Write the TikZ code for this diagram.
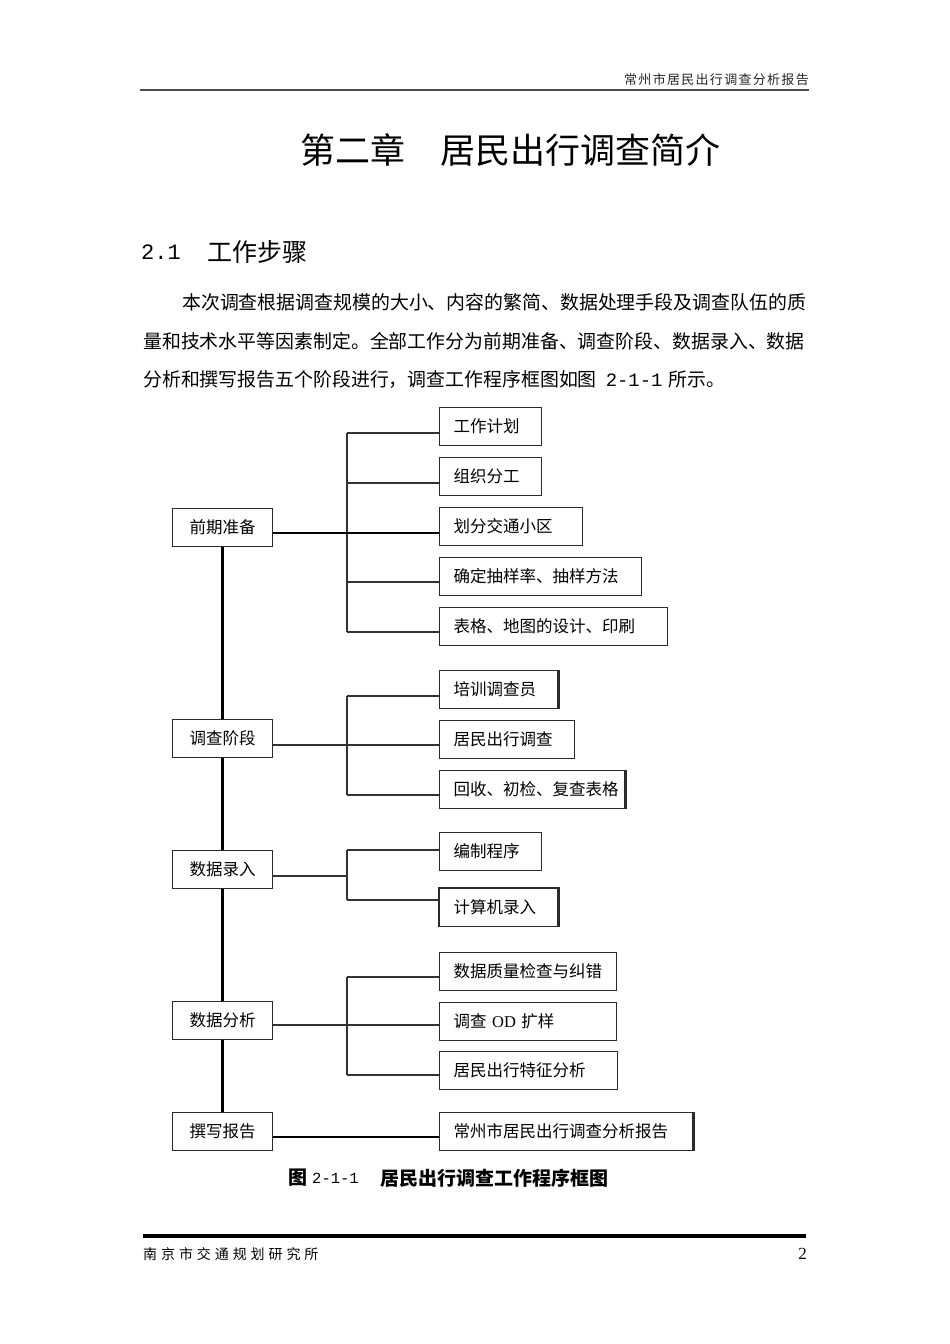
\documentclass[tikz,border=0pt]{standalone}
\usepackage{fontspec}
\setmainfont{Liberation Serif}
\newfontfamily\cjk{Noto Sans CJK SC}
\newfontfamily\cjksp[LetterSpace=10]{Noto Sans CJK SC}
\newfontfamily\cjkfoot[LetterSpace=28]{Noto Sans CJK SC}
\newfontfamily\mono{Liberation Mono}
\definecolor{boxc}{HTML}{2A2A2A}
\definecolor{linec}{HTML}{333333}
\newcommand{\fsz}[1]{\fontsize{#1}{#1}\selectfont}
\tikzset{
  rbox/.style={draw=boxc, line width=1.3pt, anchor=north west, minimum height=38pt,
    inner xsep=14pt, inner ysep=0pt, text height=14.6pt, text depth=2pt, align=left,
    font=\cjk\fsz{16.5pt}, text=black},
  lbox/.style={draw=boxc, line width=1.3pt, anchor=north west, minimum height=38pt,
    minimum width=100pt, inner sep=0pt, text height=14.6pt, text depth=2pt,
    font=\cjk\fsz{16.5pt}, text=black},
  conn/.style={draw=linec, line width=1.3pt},
  thickl/.style={draw=black, line width=2.6pt},
  spine/.style={draw=black, line width=2.7pt},
  edge/.style={draw=boxc, line width=2.6pt},
  txt/.style={inner sep=0pt, anchor=west, text=black}
}
\begin{document}
\begin{tikzpicture}[x=1pt,y=-1pt]
\useasboundingbox (0,0) rectangle (950,1344);
\fill[white] (0,0) rectangle (950,1344);

% header
\node[inner sep=0pt, anchor=east, font=\cjksp\fsz{13pt}, text=black!85] (hdr) at (809,80) {常州市居民出行调查分析报告};
\draw[line width=1.8pt, black!70] (140,90) -- (809,90);

% title
\node[txt, font=\cjk\fsz{35pt}] (title) at (300,150) {第二章　居民出行调查简介};

% section heading
\node[txt, font=\mono\fsz{22pt}] (secnum) at (141,252) {2.1};
\node[txt, font=\cjk\fsz{25pt}] (sectitle) at (207,252) {工作步骤};

% paragraph
\node[txt, font=\cjk\fsz{18.9pt}] (p1) at (182,302) {本次调查根据调查规模的大小、内容的繁简、数据处理手段及调查队伍的质};
\node[txt, font=\cjk\fsz{18.9pt}] (p2) at (143,341) {量和技术水平等因素制定。全部工作分为前期准备、调查阶段、数据录入、数据};
\node[txt, font=\cjk\fsz{18.9pt}] (p3) at (143,380) {分析和撰写报告五个阶段进行，调查工作程序框图如图\hspace{9pt}{\mono\fsz{18.9pt}2-1-1}\hspace{6pt}所示。};

% left column boxes
\node[lbox] (g1) at (172,508) {前期准备};
\node[lbox] (g2) at (172,719) {调查阶段};
\node[lbox] (g3) at (172,850) {数据录入};
\node[lbox] (g4) at (172,1001) {数据分析};
\node[lbox] (g5) at (172,1112) {撰写报告};

% group 1
\node[rbox, text width=74pt] (a1) at (439,407) {工作计划};
\node[rbox, text width=74pt] (a2) at (439,457) {组织分工};
\node[rbox, text width=115pt] (a3) at (439,507) {划分交通小区};
\node[rbox, text width=174pt] (a4) at (439,557) {确定抽样率、抽样方法};
\node[rbox, text width=200pt] (a5) at (439,607) {表格、地图的设计、印刷};

% group 2
\node[rbox, text width=90pt] (b1) at (439,670) {培训调查员};
\node[rbox, text width=107pt] (b2) at (439,720) {居民出行调查};
\node[rbox, text width=157pt] (b3) at (439,770) {回收、初检、复查表格};

% group 3
\node[rbox, text width=74pt] (c1) at (439,832) {编制程序};
\node[rbox, text width=90pt] (c2) at (439,888) {计算机录入};

% group 4
\node[rbox, text width=149pt] (d1) at (439,952) {数据质量检查与纠错};
\node[rbox, text width=149pt] (d2) at (439,1002) {调查 {\rmfamily\fsz{16.5pt}OD} 扩样};
\node[rbox, text width=150pt] (d3) at (439,1051) {居民出行特征分析};

% group 5
\node[rbox, text width=225pt] (e1) at (439,1112) {常州市居民出行调查分析报告};

% heavier box edges
\draw[edge] (b1.north east) -- (b1.south east);
\draw[edge] (b3.north east) -- (b3.south east);
\draw[edge] (c2.south west) -- (c2.north west) -- (c2.north east) -- (c2.south east);
\draw[edge] (e1.north east) -- (e1.south east);

% spine
\draw[spine] (g1.south) -- (g2.north);
\draw[spine] (g2.south) -- (g3.north);
\draw[spine] (g3.south) -- (g4.north);
\draw[spine] (g4.south) -- (g5.north);

% group 1 connectors
\coordinate (j11) at (347,433);
\coordinate (j12) at (347,483);
\coordinate (j13) at (347,533);
\coordinate (j14) at (347,582);
\coordinate (j15) at (347,632);
\draw[conn] (j11) -- (j15);
\draw[conn] (j11) -- (j11 -| a1.west);
\draw[conn] (j12) -- (j12 -| a2.west);
\draw[conn] (j14) -- (j14 -| a4.west);
\draw[conn] (j15) -- (j15 -| a5.west);
\draw[thickl] (j13 -| g1.east) -- (j13 -| a3.west);

% group 2 connectors
\coordinate (j21) at (347,696);
\coordinate (j22) at (347,745);
\coordinate (j23) at (347,795);
\draw[conn] (j21) -- (j23);
\draw[conn] (j21) -- (j21 -| b1.west);
\draw[conn] (j22 -| g2.east) -- (j22 -| b2.west);
\draw[conn] (j23) -- (j23 -| b3.west);

% group 3 connectors
\coordinate (j31) at (347,850);
\coordinate (j32) at (347,876);
\coordinate (j33) at (347,900);
\draw[conn] (j31) -- (j33);
\draw[conn] (j31) -- (j31 -| c1.west);
\draw[conn] (j32 -| g3.east) -- (j32);
\draw[conn] (j33) -- (j33 -| c2.west);

% group 4 connectors
\coordinate (j41) at (347,977);
\coordinate (j42) at (347,1025);
\coordinate (j43) at (347,1075);
\draw[conn] (j41) -- (j43);
\draw[conn] (j41) -- (j41 -| d1.west);
\draw[conn] (j42 -| g4.east) -- (j42 -| d2.west);
\draw[conn] (j43) -- (j43 -| d3.west);

% group 5 connector
\coordinate (j51) at (347,1137);
\draw[thickl] (j51 -| g5.east) -- (j51 -| e1.west);

% caption
\node[txt, font=\cjk\bfseries\fsz{19pt}] (capfig) at (288,1178) {图};
\node[txt, font=\mono\fsz{15.5pt}] (capnum) at (312,1178) {2-1-1};
\node[txt, font=\cjk\bfseries\fsz{19pt}] (captext) at (380,1178) {居民出行调查工作程序框图};

% footer
\draw[line width=3.5pt, black] (143,1236) -- (806,1236);
\node[txt, font=\cjkfoot\fsz{14pt}] (ftext) at (143,1254) {南京市交通规划研究所};
\node[inner sep=0pt, anchor=east, font=\rmfamily\fsz{17pt}] (fpage) at (807,1254) {2};
\end{tikzpicture}
\end{document}
